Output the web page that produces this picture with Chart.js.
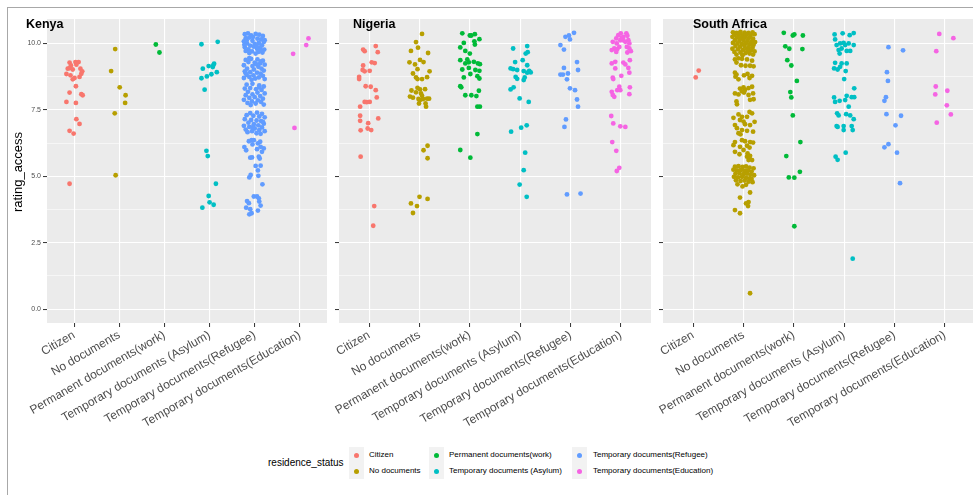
<!DOCTYPE html>
<html>
<head>
<meta charset="utf-8">
<script src="https://cdn.jsdelivr.net/npm/chart.js@4.4.0/dist/chart.umd.min.js"></script>
<style>
  html, body { margin: 0; padding: 0; background: #fff; overflow: hidden; width: 973px; height: 495px; }
  body { position: relative; font-family: "Liberation Sans", Arial, sans-serif; }
  #frame { position: absolute; left: 7px; top: 7px; width: 1000px; height: 520px; border-left: 1px solid #a8a8a8; border-top: 1px solid #a8a8a8; }
  canvas { position: absolute; top: 0; }
  .facet { position: absolute; top: 18px; font-size: 12.5px; line-height: 1; font-weight: bold; color: #000; z-index: 5; }
  #ytitle { position: absolute; left: -82px; top: 164px; width: 200px; text-align: center; font-size: 13px; line-height: 16px; color: #000; transform: rotate(-90deg); }
  #legend-title { position: absolute; left: 268px; top: 456px; font-size: 10px; line-height: 14px; color: #000; }
  .key { position: absolute; width: 15px; height: 16px; background: #f2f2f2; }
  .key i { position: absolute; left: 5px; top: 6px; width: 5px; height: 5px; border-radius: 50%; }
  .lab { position: absolute; font-size: 8px; line-height: 10px; color: #000; white-space: nowrap; }
</style>
</head>
<body>
<div id="frame"></div>
<canvas id="kenya" width="332" height="440" style="left:0px"></canvas>
<canvas id="nigeria" width="360" height="440" style="left:296px"></canvas>
<canvas id="southafrica" width="360" height="440" style="left:621px"></canvas>
<div class="facet" style="left:26px">Kenya</div>
<div class="facet" style="left:353px">Nigeria</div>
<div class="facet" style="left:693px">South Africa</div>
<div id="ytitle">rating_access</div>
<div id="legend"></div>

<script>
// residence_status levels, in ggplot order
const categories = ['Citizen', 'No documents', 'Permanent documents(work)', 'Temporary documents (Asylum)', 'Temporary documents(Refugee)', 'Temporary documents(Education)'];
const palette = ['#F8766D', '#B79F00', '#00BA38', '#00BFC4', '#619CFF', '#F564E3'];
const yMajor = [0, 2.5, 5, 7.5, 10];
const yMajorLabels = ['0.0', '2.5', '5.0', '7.5', '10.0'];
const yMinor = [1.25, 3.75, 6.25, 8.75];

// each point: [horizontal jitter, rating_access]
const kenyaCitizen = [[-0.10,9.28],[0.03,9.30],[0.10,9.30],[-0.07,9.17],[0.05,9.20],[-0.14,9.05],[-0.10,9.07],[-0.03,9.02],[0.14,9.05],[0.18,8.95],[-0.17,8.85],[-0.08,8.80],[0.01,8.70],[-0.03,8.65],[0.12,8.74],[0.16,8.86],[0.04,8.39],[-0.10,8.15],[0.16,8.09],[0.19,8.05],[-0.17,7.80],[0.04,7.76],[0.05,7.15],[0.12,6.97],[-0.10,6.71],[-0.01,6.61],[-0.10,4.72]];
const kenyaNoDocs = [[-0.09,9.79],[-0.18,8.96],[0.01,8.35],[0.14,8.05],[0.13,7.76],[-0.10,7.37],[-0.08,5.04]];
const kenyaPermanent = [[-0.19,9.96],[-0.11,9.66]];
const kenyaAsylum = [[-0.18,9.97],[0.18,10.06],[-0.15,9.05],[-0.02,9.15],[0.10,9.24],[0.07,9.11],[0.08,9.17],[0.16,8.92],[0.04,8.84],[-0.06,8.76],[-0.18,8.69],[-0.11,8.26],[-0.07,5.96],[-0.04,5.76],[0.14,4.72],[-0.02,4.26],[0.00,4.02],[0.09,3.93],[-0.16,3.82]];
const kenyaRefugee = [
  [-0.22,10.35],[-0.15,10.38],[-0.08,10.30],[0.02,10.36],[0.10,10.33],[0.18,10.28],[-0.20,10.20],[-0.12,10.22],[0.06,10.18],[0.14,10.15],[-0.24,10.08],[-0.05,10.10],[0.20,10.05],[-0.17,10.00],[0.00,9.98],[0.09,10.02],[-0.10,9.92],[0.16,9.93],[-0.22,9.86],[-0.02,9.88],[0.12,9.85],[-0.14,9.78],[0.05,9.80],[0.21,9.77],[-0.20,9.72],[-0.06,9.70],[0.08,9.68],[0.17,9.66],[-0.12,9.64],[0.02,9.62],[-0.23,9.95],[0.22,10.12],[-0.04,10.24],[0.13,9.74],[-0.18,10.12],[0.04,9.90],
  [-0.20,9.38],[-0.08,9.42],[0.06,9.40],[0.18,9.35],[-0.14,9.30],[0.00,9.28],[0.12,9.25],[0.22,9.20],[-0.24,9.18],[-0.05,9.15],[0.08,9.12],[-0.17,9.05],[0.15,9.05],[-0.02,9.02],[0.20,8.98],[-0.22,8.95],[-0.10,8.92],[0.05,8.90],[0.13,8.86],[-0.18,8.82],[-0.03,8.80],[0.18,8.78],[-0.12,8.74],[0.09,8.72],[-0.24,8.70],[0.01,8.68],[0.22,8.66],[-0.07,8.63],[0.14,9.32],[-0.12,9.45],[0.03,9.22],[-0.20,8.88],
  [-0.18,8.45],[-0.05,8.48],[0.10,8.42],[0.20,8.38],[-0.22,8.30],[-0.10,8.32],[0.03,8.28],[0.15,8.25],[-0.15,8.18],[0.06,8.15],[0.22,8.12],[-0.05,8.08],[-0.20,8.05],[0.12,8.02],[0.00,7.98],[-0.12,7.95],[0.18,7.92],[-0.24,7.88],[0.07,7.86],[-0.06,7.82],[0.14,7.80],[-0.16,7.76],[0.02,7.74],[0.20,7.70],[-0.09,7.68],[0.10,8.35],
  [-0.10,7.38],[0.05,7.40],[0.16,7.35],[-0.18,7.30],[-0.03,7.28],[0.10,7.25],[0.22,7.22],[-0.22,7.15],[-0.08,7.12],[0.04,7.10],[0.14,7.08],[-0.14,7.02],[0.20,6.98],[-0.02,6.96],[0.08,6.92],[-0.24,6.90],[-0.12,6.86],[0.16,6.84],[0.00,6.80],[-0.20,6.76],[0.10,6.74],[-0.06,6.70],[0.22,6.70],[-0.16,6.66],[0.04,6.62],[0.13,6.60],[-0.04,6.85],[0.18,7.05],
  [-0.13,6.32],[-0.07,6.36],[-0.02,6.36],[0.07,6.24],[0.13,6.11],[0.16,5.92],[0.05,6.02],[0.09,5.74],[0.11,5.67],[-0.10,5.70],[-0.06,5.71],[-0.19,5.98],[-0.23,6.10],[0.20,6.05],[-0.05,6.20],[0.12,6.30],
  [0.02,5.39],[0.13,5.40],[0.07,5.22],[-0.09,5.05],[-0.12,4.96],[0.08,5.02],[0.17,4.70],
  [-0.02,4.24],[0.05,4.24],[0.09,4.17],[0.10,4.05],[0.13,3.90],[-0.17,4.07],[-0.13,3.99],[-0.19,3.82],[-0.10,3.76],[-0.07,3.61],[-0.12,3.57],[0.07,3.71]
];
const kenyaEducation = [[-0.15,9.61],[0.14,9.94],[0.19,10.19],[-0.12,6.82]];

const nigeriaCitizen = [[0.13,9.90],[-0.12,9.77],[-0.09,9.71],[0.17,9.67],[0.05,9.29],[0.11,9.26],[-0.12,9.17],[-0.13,9.00],[-0.09,8.95],[0.01,8.97],[-0.20,8.74],[-0.20,8.66],[-0.07,8.39],[0.03,8.37],[0.13,8.24],[0.15,7.97],[-0.09,7.80],[-0.05,7.79],[0.01,7.80],[-0.18,7.62],[-0.18,7.28],[-0.18,7.09],[-0.02,7.00],[0.18,7.18],[-0.17,6.73],[-0.03,6.80],[0.04,6.74],[-0.17,5.74],[0.10,3.88],[0.08,3.14]];
const nigeriaNoDocs = [[0.05,10.36],[-0.07,10.05],[-0.03,9.84],[-0.17,9.72],[0.17,9.64],[0.01,9.38],[0.08,9.30],[-0.20,9.29],[-0.09,9.21],[-0.04,9.03],[0.20,8.95],[-0.13,8.87],[-0.07,8.72],[-0.04,8.66],[0.05,8.66],[0.15,8.73],[-0.16,8.23],[-0.04,8.33],[0.01,8.27],[0.11,8.28],[-0.07,8.16],[0.03,8.12],[0.05,8.03],[-0.19,8.00],[-0.13,7.96],[-0.02,7.91],[0.07,7.91],[0.15,7.92],[0.19,7.92],[-0.01,7.74],[0.12,7.74],[0.13,7.62],[0.01,7.87],[0.16,6.15],[0.08,5.98],[0.16,5.68],[0.00,4.23],[0.16,4.15],[-0.17,3.98],[-0.05,3.88],[-0.13,3.62]];
const nigeriaPermanent = [[-0.15,10.38],[0.00,10.30],[0.03,10.30],[0.10,10.35],[0.19,10.16],[0.09,10.08],[-0.12,10.02],[0.10,9.96],[-0.19,9.85],[-0.09,9.72],[0.00,9.62],[-0.19,9.37],[-0.05,9.40],[-0.09,9.25],[-0.02,9.29],[0.08,9.31],[0.16,9.25],[0.20,9.22],[-0.15,9.02],[-0.02,9.08],[0.11,9.00],[0.19,8.97],[-0.12,8.72],[0.01,8.85],[0.15,8.77],[0.19,8.68],[-0.19,8.39],[-0.17,8.35],[0.18,8.22],[-0.09,8.05],[0.03,8.05],[0.13,8.02],[0.15,7.62],[0.20,7.62],[0.15,6.59],[-0.19,5.99],[0.01,5.70]];
const nigeriaAsylum = [[-0.14,9.81],[0.14,9.90],[0.11,9.62],[0.15,9.67],[0.05,9.37],[-0.10,9.30],[0.14,9.18],[-0.19,9.06],[-0.14,9.03],[-0.06,9.00],[0.07,8.96],[0.18,8.97],[0.21,8.91],[0.14,8.90],[-0.09,8.74],[-0.06,8.67],[0.09,8.72],[0.07,8.62],[-0.19,8.27],[-0.13,8.35],[-0.01,7.93],[0.17,7.80],[0.13,6.92],[0.02,6.83],[-0.18,6.68],[0.10,5.89],[0.07,5.23],[-0.01,4.69],[0.13,4.23]];
const nigeriaRefugee = [[0.07,10.40],[-0.10,10.25],[-0.03,10.30],[-0.01,10.15],[-0.20,9.94],[-0.13,9.77],[0.13,9.30],[0.15,9.00],[-0.13,9.08],[-0.20,8.83],[-0.15,8.83],[-0.05,8.87],[-0.07,8.65],[-0.01,8.31],[0.09,8.24],[0.13,7.89],[0.15,7.62],[-0.09,7.14],[-0.12,6.86],[-0.07,4.32],[0.20,4.35]];
const nigeriaEducation = [[-0.16,10.06],[-0.09,10.19],[-0.05,10.31],[0.00,10.38],[0.05,10.25],[0.11,10.38],[0.13,10.29],[-0.08,10.00],[-0.01,10.12],[0.05,10.12],[0.15,10.12],[0.17,10.00],[-0.13,9.81],[-0.18,9.75],[-0.07,9.79],[-0.03,9.87],[0.12,9.87],[0.17,9.81],[0.13,9.66],[0.20,9.71],[-0.09,9.68],[0.02,10.21],[0.09,10.06],[-0.18,9.25],[-0.11,9.31],[0.05,9.28],[0.09,9.21],[0.18,9.37],[0.15,9.08],[-0.11,9.06],[0.17,8.90],[0.01,8.78],[-0.16,8.71],[-0.15,8.66],[-0.03,8.37],[-0.07,8.24],[-0.01,8.24],[0.18,8.35],[-0.18,8.18],[-0.16,8.06],[-0.13,7.99],[0.17,8.09],[-0.19,7.27],[-0.15,6.99],[-0.01,6.88],[0.09,6.86],[-0.17,6.29],[-0.09,5.96],[-0.03,5.32],[-0.08,5.20]];

const saCitizen = [[0.11,8.98],[0.05,8.72]];
const saNoDocs = [
  [-0.21,10.42],[-0.14,10.40],[-0.06,10.43],[0.02,10.41],[0.10,10.40],[0.18,10.42],[0.22,10.35],[-0.18,10.33],[-0.10,10.32],[-0.02,10.30],[0.06,10.34],[0.14,10.30],[-0.22,10.25],[-0.13,10.22],[-0.05,10.20],[0.03,10.23],[0.11,10.21],[0.19,10.18],[-0.17,10.12],[-0.08,10.10],[0.00,10.13],[0.08,10.10],[0.16,10.08],[0.23,10.05],[-0.21,10.02],[-0.12,10.00],[-0.03,9.98],[0.05,10.01],[0.13,9.97],[0.20,9.95],[-0.16,9.90],[-0.07,9.88],[0.02,9.90],[0.10,9.86],[0.18,9.84],[-0.22,9.80],[-0.11,9.78],[-0.01,9.76],[0.07,9.79],[0.15,9.74],[0.22,9.70],[-0.18,9.68],[-0.06,9.66],[0.04,9.64],[0.12,9.62],[-0.14,9.58],[0.19,9.58],[-0.02,9.56],[0.09,9.72],[-0.09,10.38],
  [-0.17,9.40],[-0.10,9.44],[-0.03,9.42],[0.07,9.40],[-0.05,9.18],[0.04,9.16],[0.13,9.16],[0.20,9.14],[-0.14,9.28],[0.17,9.35],
  [-0.17,8.90],[-0.16,8.75],[-0.14,8.83],[0.01,8.80],[0.08,8.85],[0.17,8.78],[0.12,8.70],[-0.10,8.65],
  [-0.07,8.30],[0.00,8.35],[0.03,8.25],[0.10,8.32],[0.17,8.37],[-0.03,8.20],[0.01,8.15],[-0.17,8.12],[-0.10,8.08],[0.10,8.06],[0.19,8.12],[-0.14,7.82],[0.13,7.88],[0.20,7.90],[-0.13,7.71],
  [-0.10,7.33],[-0.03,7.24],[0.07,7.24],[0.17,7.37],[-0.07,7.12],[0.00,7.06],[-0.17,6.93],[0.03,6.96],[0.13,6.93],[-0.13,6.81],[-0.03,6.74],[0.07,6.71],[0.19,6.68],[-0.10,6.62],[0.12,7.42],[-0.20,7.20],[0.22,7.05],[-0.06,6.58],
  [-0.17,6.29],[-0.03,6.36],[0.03,6.32],[0.13,6.29],[0.19,6.27],[-0.20,6.17],[-0.07,6.11],[0.07,6.15],[0.12,6.08],[-0.17,5.92],[0.00,5.99],[-0.08,5.83],[0.08,5.86],[0.07,5.74],[0.13,5.77],[0.12,5.68],[0.17,5.61],[0.10,5.61],
  [-0.17,5.36],[-0.10,5.38],[-0.02,5.35],[0.05,5.37],[0.12,5.33],[0.20,5.30],[-0.20,5.25],[-0.13,5.22],[-0.05,5.24],[0.02,5.20],[0.09,5.22],[0.16,5.18],[-0.16,5.10],[-0.08,5.12],[0.00,5.08],[0.07,5.10],[0.14,5.06],[0.21,5.04],[-0.19,4.98],[-0.11,4.96],[-0.03,4.98],[0.05,4.94],[0.12,4.92],[-0.15,4.85],[-0.06,4.82],[0.02,4.84],[0.10,4.80],[0.18,4.78],[-0.12,4.70],[0.05,4.68],[-0.02,4.62],[0.16,4.90],
  [0.13,4.39],[-0.07,4.20],[0.10,4.03],[0.05,3.98],[0.09,3.88],[-0.17,3.73],[-0.07,3.61],[0.13,0.60]
];
const saPermanent = [[-0.20,10.40],[-0.02,10.30],[0.01,10.34],[0.18,10.30],[-0.17,9.89],[-0.09,9.80],[0.17,9.79],[-0.13,9.37],[-0.05,9.17],[0.06,8.59],[-0.07,8.17],[-0.05,7.97],[-0.02,7.29],[0.13,6.29],[-0.15,5.76],[0.12,5.17],[-0.10,4.96],[0.01,4.95],[0.01,3.12]];
const saAsylum = [[-0.19,10.34],[-0.03,10.38],[0.11,10.31],[0.19,10.39],[-0.18,10.15],[-0.08,10.00],[-0.15,9.94],[-0.01,10.02],[0.02,9.94],[0.09,10.00],[0.19,9.94],[-0.11,9.75],[-0.05,9.81],[0.05,9.72],[0.12,9.72],[-0.09,9.62],[-0.18,9.27],[-0.05,9.25],[0.05,9.25],[-0.20,9.06],[-0.13,9.02],[-0.08,9.12],[0.03,8.96],[0.00,8.66],[0.20,8.31],[0.05,8.03],[0.15,7.98],[0.20,7.98],[-0.20,7.97],[-0.18,7.80],[-0.09,7.84],[0.02,7.87],[0.09,7.62],[-0.14,7.37],[-0.11,7.29],[0.04,7.34],[0.12,7.29],[0.19,7.15],[-0.15,6.89],[-0.01,6.89],[-0.13,6.86],[-0.01,6.74],[0.15,6.89],[0.17,6.74],[-0.17,5.74],[-0.13,5.62],[0.03,5.89],[0.17,1.90]];
const saRefugee = [[-0.12,9.86],[0.17,9.74],[-0.15,8.92],[-0.13,8.59],[-0.17,7.98],[-0.20,7.84],[-0.16,7.34],[0.13,7.28],[0.02,6.92],[-0.20,6.09],[-0.12,6.21],[0.05,5.89],[0.11,4.74]];
const saEducation = [[-0.11,10.36],[0.17,10.20],[-0.17,9.71],[-0.18,8.38],[0.05,8.22],[-0.19,8.08],[0.04,7.67],[0.12,7.33],[-0.16,7.02]];

Chart.defaults.font.family = "'Liberation Sans', Arial, sans-serif";

const panelBg = {
  id: 'panelBg',
  beforeDraw(chart) {
    const { ctx, chartArea: a } = chart;
    ctx.save();
    ctx.fillStyle = '#EBEBEB';
    ctx.fillRect(a.left, a.top, a.right - a.left, a.bottom - a.top);
    ctx.restore();
  }
};

const isMajor = v => yMajor.includes(v);

function drawPanel(canvasId, groups, canvasLeft, areaLeft, areaRight, showYLabels) {
  const canvas = document.getElementById(canvasId);
  const W = canvas.width, H = canvas.height;
  const datasets = groups.map((pts, i) => ({
    label: categories[i],
    data: pts.map(p => ({ x: i + 1 + p[0], y: p[1] })),
    backgroundColor: palette[i],
    borderWidth: 0,
    pointRadius: 2.4,
    pointHoverRadius: 2.4
  }));

  new Chart(canvas.getContext('2d'), {
    type: 'scatter',
    data: { datasets },
    plugins: [panelBg],
    options: {
      responsive: false,
      animation: false,
      devicePixelRatio: 1,
      layout: { padding: { top: 19, right: W - (areaRight - canvasLeft), left: 0, bottom: 0 } },
      plugins: { legend: { display: false }, tooltip: { enabled: false } },
      scales: {
        x: {
          type: 'linear', min: 0.4, max: 6.6,
          afterBuildTicks: s => { s.ticks = categories.map((c, i) => ({ value: i + 1 })); },
          afterFit: s => { s.height = H - 323; },
          ticks: {
            autoSkip: false, minRotation: 30, maxRotation: 30, padding: 1,
            color: '#4D4D4D', font: { size: 12 },
            callback: v => categories[Math.round(v) - 1]
          },
          grid: { color: '#FFFFFF', lineWidth: 1.1, tickLength: 4, tickColor: '#333333', tickWidth: 1 },
          border: { display: false }
        },
        y: {
          min: -0.52, max: 10.92,
          afterBuildTicks: s => { s.ticks = yMajor.concat(yMinor).sort((a, b) => a - b).map(v => ({ value: v })); },
          afterFit: s => { s.width = areaLeft - canvasLeft; },
          ticks: {
            padding: 2, color: '#4D4D4D', font: { size: 7 },
            callback: v => (showYLabels && isMajor(v)) ? yMajorLabels[yMajor.indexOf(v)] : ''
          },
          grid: {
            color: '#FFFFFF',
            lineWidth: c => isMajor(c.tick.value) ? 1.1 : 0.55,
            tickLength: 4,
            tickWidth: 1,
            tickColor: c => isMajor(c.tick.value) ? '#333333' : 'rgba(0,0,0,0)'
          },
          border: { display: false }
        }
      }
    }
  });
}

drawPanel('kenya', [kenyaCitizen, kenyaNoDocs, kenyaPermanent, kenyaAsylum, kenyaRefugee, kenyaEducation], 0, 47, 327, true);
drawPanel('nigeria', [nigeriaCitizen, nigeriaNoDocs, nigeriaPermanent, nigeriaAsylum, nigeriaRefugee, nigeriaEducation], 296, 339, 651, false);
drawPanel('southafrica', [saCitizen, saNoDocs, saPermanent, saAsylum, saRefugee, saEducation], 621, 663, 975, false);

// legend: three columns of two keys, filled column-wise like ggplot
const legend = document.getElementById('legend');
const legendTitle = document.createElement('div');
legendTitle.id = 'legend-title';
legendTitle.textContent = 'residence_status';
legend.appendChild(legendTitle);
const keyLeft = [349, 429, 572];
const labLeft = [369, 449, 593];
categories.forEach((name, i) => {
  const col = Math.floor(i / 2), row = i % 2;
  const key = document.createElement('div');
  key.className = 'key';
  key.style.left = keyLeft[col] + 'px';
  key.style.top = (447 + row * 16) + 'px';
  const dot = document.createElement('i');
  dot.style.background = palette[i];
  key.appendChild(dot);
  legend.appendChild(key);
  const lab = document.createElement('div');
  lab.className = 'lab';
  lab.style.left = labLeft[col] + 'px';
  lab.style.top = (450 + row * 16) + 'px';
  lab.textContent = name;
  legend.appendChild(lab);
});
</script>
</body>
</html>
